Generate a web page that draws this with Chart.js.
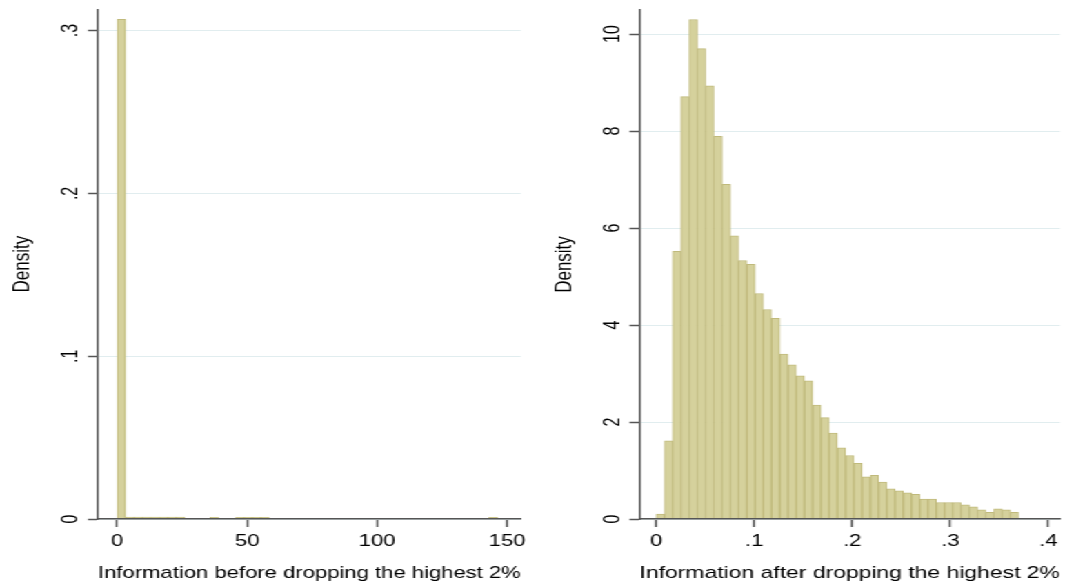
<!DOCTYPE html>
<html>
<head>
<meta charset="utf-8">
<script src="https://cdn.jsdelivr.net/npm/chart.js@4.4.1/dist/chart.umd.min.js"></script>
<style>
html,body{margin:0;padding:0;background:#fff;overflow:hidden;width:1065px;height:588px;}
#wrap{position:absolute;left:0;top:0;width:772px;height:588px;transform:scaleX(1.379534);transform-origin:0 0;}
canvas{position:absolute;top:0;}
</style>
</head>
<body>
<div id="wrap">
<canvas id="c1" width="386" height="588" style="left:0px;width:386px;height:588px"></canvas>
<canvas id="c2" width="386" height="588" style="left:386px;width:386px;height:588px"></canvas>
</div>
<script>
// ---------------- data ----------------
// Left panel: histogram before dropping the highest 2%
const leftBinStart = 0;
const leftBinWidth = 3.25;
const leftDensity = [
  0.307, 0.0012, 0.0012, 0.0012, 0.0012, 0.0012, 0.0012, 0.0012, 0, 0,
  0, 0.0011, 0, 0, 0.0011, 0.0011, 0.0011, 0.0011, 0, 0,
  0, 0, 0, 0, 0, 0, 0, 0, 0, 0,
  0, 0, 0, 0, 0, 0, 0, 0, 0, 0,
  0, 0, 0, 0, 0.0011
];
const leftXTicks = [0, 50, 100, 150];
const leftXTickLabels = ['0', '50', '100', '150'];
const leftYTicks = [0, 0.1, 0.2, 0.3];
const leftYTickLabels = ['0', '.1', '.2', '.3'];
const leftXTitle = 'Information before dropping the highest 2%';

// Right panel: histogram after dropping the highest 2%
const rightBinStart = 0;
const rightBinWidth = 0.0084;
const rightDensity = [
  0.10, 1.61, 5.52, 8.71, 10.30, 9.70, 8.93, 7.89, 6.90, 5.84,
  5.33, 5.25, 4.65, 4.32, 4.14, 3.40, 3.18, 2.95, 2.85, 2.35,
  2.09, 1.77, 1.47, 1.31, 1.15, 0.87, 0.90, 0.76, 0.62, 0.58,
  0.54, 0.51, 0.41, 0.41, 0.34, 0.34, 0.34, 0.29, 0.25, 0.19,
  0.14, 0.21, 0.19, 0.14
];
const rightXTicks = [0, 0.1, 0.2, 0.3, 0.4];
const rightXTickLabels = ['0', '.1', '.2', '.3', '.4'];
const rightYTicks = [0, 2, 4, 6, 8, 10];
const rightYTickLabels = ['0', '2', '4', '6', '8', '10'];
const rightXTitle = 'Information after dropping the highest 2%';

const yTitle = 'Density';

// ---------------- styling ----------------
const FONT = "'Liberation Sans', Arial, Helvetica, sans-serif";
const TXT = '#000000';
const AX = '#555555';
const GRID = '#e1edef';
const BAR_FILL = '#d5d19c';
const BAR_EDGE = '#c0ba7c';
const TICK_SIZE = 16;
const TITLE_SIZE = 17;

function histData(start, width, dens) {
  return dens.map((d, i) => ({ x: start + (i + 0.5) * width, y: d === 0 ? null : d }));
}

const rotYTicks = {
  id: 'rotYTicks',
  afterDraw(chart, args, opts) {
    const sc = chart.scales.y;
    const ctx = chart.ctx;
    ctx.save();
    ctx.font = TICK_SIZE + 'px ' + FONT;
    ctx.fillStyle = TXT;
    ctx.textAlign = 'center';
    ctx.textBaseline = 'alphabetic';
    opts.values.forEach((v, i) => {
      const py = sc.getPixelForValue(v);
      const bx = chart.chartArea.left - opts.gap + 0.358 * TICK_SIZE;
      ctx.save();
      ctx.translate(bx, py);
      ctx.rotate(-Math.PI / 2);
      ctx.fillText(opts.labels[i], 0, 0);
      ctx.restore();
    });
    ctx.restore();
  }
};

function makeChart(id, p) {
  return new Chart(document.getElementById(id), {
    type: 'bar',
    data: {
      datasets: [{
        data: histData(p.start, p.width, p.dens),
        backgroundColor: BAR_FILL,
        borderColor: BAR_EDGE,
        borderWidth: 1,
        borderSkipped: 'start',
        barPercentage: 1,
        categoryPercentage: 1,
        grouped: false
      }]
    },
    options: {
      responsive: false,
      animation: false,
      devicePixelRatio: 1,
      layout: { padding: { left: 0, right: p.padRight, top: p.padTop, bottom: 0 } },
      plugins: {
        legend: { display: false },
        tooltip: { enabled: false },
        rotYTicks: { values: p.yTicks, labels: p.yLabels, gap: 20.5 }
      },
      scales: {
        x: {
          type: 'linear',
          offset: false,
          min: p.xMin,
          max: p.xMax,
          afterBuildTicks: sc => { sc.ticks = p.xTicks.map(v => ({ value: v })); },
          afterFit: sc => { sc.height = 69; },
          ticks: {
            autoSkip: false, maxRotation: 0, minRotation: 0, padding: 4.8,
            font: { family: FONT, size: TICK_SIZE }, color: TXT,
            callback: (v, i) => p.xLabels[i]
          },
          grid: { display: true, offset: false, drawOnChartArea: false, drawTicks: true, tickLength: 8, tickColor: AX, tickWidth: 1.5 },
          border: { display: true, color: AX, width: 1.5, z: 1 },
          title: { display: true, text: p.xTitle, font: { family: FONT, size: TITLE_SIZE }, color: TXT, padding: { top: 0, bottom: 4.0 } }
        },
        y: {
          type: 'linear',
          offset: false,
          min: 0,
          max: p.yMax,
          afterBuildTicks: sc => { sc.ticks = p.yTicks.map(v => ({ value: v })); },
          afterFit: sc => { sc.width = p.axisW; },
          ticks: { display: false },
          grid: { offset: false, color: GRID, lineWidth: 1, drawTicks: true, tickLength: 7.25, tickColor: AX, tickWidth: 1.5 },
          border: { display: true, color: AX, width: 1.5, z: 1 },
          title: { display: true, text: yTitle, font: { family: FONT, size: TITLE_SIZE }, color: TXT, padding: { top: p.yTitlePad, bottom: 0 } }
        }
      }
    },
    plugins: [rotYTicks]
  });
}

makeChart('c1', {
  start: leftBinStart, width: leftBinWidth, dens: leftDensity,
  xMin: -7.39, xMax: 155.28, yMax: 0.3131,
  xTicks: leftXTicks, xLabels: leftXTickLabels,
  yTicks: leftYTicks, yLabels: leftYTickLabels,
  xTitle: leftXTitle,
  padRight: 6.88, padTop: 9.3, axisW: 71.04, yTitlePad: 6.2
});

makeChart('c2', {
  start: rightBinStart, width: rightBinWidth, dens: rightDensity,
  xMin: -0.01703, xMax: 0.4118, yMax: 10.495,
  xTicks: rightXTicks, xLabels: rightXTickLabels,
  yTicks: rightYTicks, yLabels: rightYTickLabels,
  xTitle: rightXTitle,
  padRight: 3.62, padTop: 10, axisW: 77.57, yTitlePad: 12.7
});
</script>
</body>
</html>
